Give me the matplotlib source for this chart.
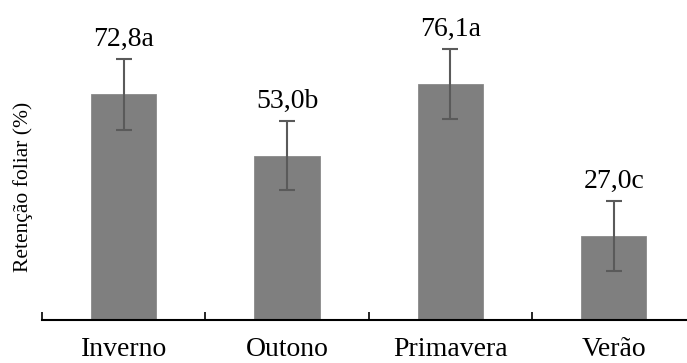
import numpy as np
import matplotlib
matplotlib.use('Agg')
import matplotlib.pyplot as plt

plt.rcParams['font.family'] = ['Liberation Serif', 'DejaVu Serif']

# Retenção foliar por estação
estacoes = ['Inverno', 'Outono', 'Primavera', 'Verão']
retencao = [72.8, 53.0, 76.1, 27.0]
erro = [11.4, 11.1, 11.4, 11.3]
letras = ['a', 'b', 'a', 'c']

fig = plt.figure(figsize=(6.87, 3.63), dpi=100)
ax = fig.add_axes([42 / 687, 43 / 363, 653.4 / 687, 310 / 363])

x = np.arange(len(estacoes))
ax.bar(x, retencao, width=0.4, color='#7f7f7f', edgecolor='#8a8a8a', linewidth=0.6, zorder=2)
ax.errorbar(x, retencao, yerr=erro, fmt='none', ecolor='#5a5a5a', elinewidth=1.5,
            capsize=6, capthick=1.5, zorder=3)

for xi, v, e, l in zip(x, retencao, erro, letras):
    rotulo = f'{v:.1f}'.replace('.', ',') + l
    ax.annotate(rotulo, (xi, v + e), xytext=(0, 5), textcoords='offset points',
                ha='center', va='bottom', fontsize=20)

ax.set_xlim(-0.5, 3.5)
ax.set_ylim(0, 100)

for s in ['top', 'right', 'left']:
    ax.spines[s].set_visible(False)
ax.spines['bottom'].set_linewidth(1.5)

ax.set_yticks([])
ax.set_xticks(x)
ax.set_xticklabels(estacoes, fontsize=20)
ax.tick_params(axis='x', which='major', length=0, pad=12)
ax.set_xticks(np.arange(-0.5, 4, 1), minor=True)
ax.tick_params(axis='x', which='minor', direction='in', length=6, width=1.2)

ax.set_ylabel('Retenção foliar (%)', fontsize=15.5)
ax.yaxis.set_label_coords(-0.014, 0.43)

fig.savefig('out.png', dpi=100)
